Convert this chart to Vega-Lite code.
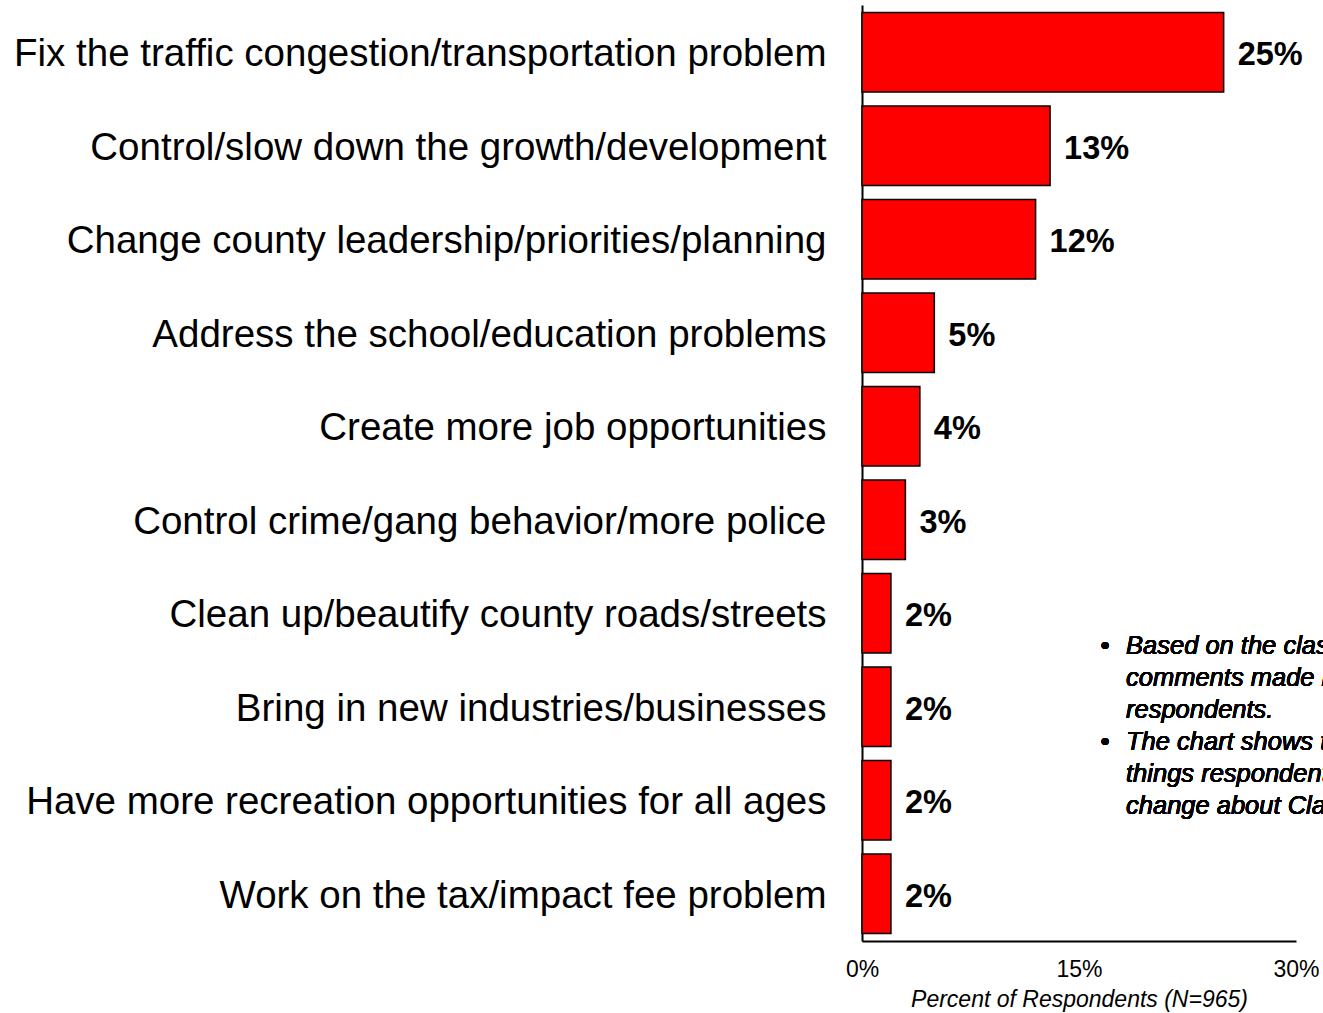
{
  "$schema": "https://vega.github.io/schema/vega-lite/v6.json",
  "autosize": "none",
  "width": 434,
  "height": 936,
  "padding": {"left": 862, "top": 5, "right": 27, "bottom": 72},
  "background": "white",
  "config": {"view": {"stroke": null}, "font": "Liberation Sans"},
  "data": {
    "values": [
      {"item": "Fix the traffic congestion/transportation problem", "pct": 25, "label": "25%"},
      {"item": "Control/slow down the growth/development", "pct": 13, "label": "13%"},
      {"item": "Change county leadership/priorities/planning", "pct": 12, "label": "12%"},
      {"item": "Address the school/education problems", "pct": 5, "label": "5%"},
      {"item": "Create more job opportunities", "pct": 4, "label": "4%"},
      {"item": "Control crime/gang behavior/more police", "pct": 3, "label": "3%"},
      {"item": "Clean up/beautify county roads/streets", "pct": 2, "label": "2%"},
      {"item": "Bring in new industries/businesses", "pct": 2, "label": "2%"},
      {"item": "Have more recreation opportunities for all ages", "pct": 2, "label": "2%"},
      {"item": "Work on the tax/impact fee problem", "pct": 2, "label": "2%"}
    ]
  },
  "encoding": {
    "y": {
      "field": "item",
      "type": "nominal",
      "sort": null,
      "scale": {"paddingInner": 0.15, "paddingOuter": 0.08},
      "axis": {
        "title": null,
        "ticks": false,
        "domainColor": "black",
        "domainWidth": 2,
        "labelFontSize": 38.5,
        "labelColor": "black",
        "labelPadding": 36,
        "labelOffset": 2,
        "labelLimit": 900,
        "labelFont": "Liberation Sans"
      }
    }
  },
  "layer": [
    {
      "mark": {"type": "bar", "fill": "#FF0000", "stroke": "black", "strokeWidth": 1.5},
      "encoding": {
        "x": {
          "field": "pct",
          "type": "quantitative",
          "scale": {"domain": [0, 30], "nice": false},
          "axis": {
            "values": [0, 15, 30],
            "labelExpr": "datum.value + '%'",
            "grid": false,
            "ticks": false,
            "domainColor": "black",
            "domainWidth": 2,
            "labelFontSize": 23,
            "labelColor": "black",
            "labelPadding": 17,
            "labelFlush": false,
            "title": "Percent of Respondents (N=965)",
            "titleFontSize": 23,
            "titleFontStyle": "italic",
            "titleFontWeight": "normal",
            "titleColor": "black",
            "titlePadding": 7
          }
        }
      }
    },
    {
      "mark": {"type": "text", "align": "left", "baseline": "middle", "dx": 14, "dy": 3, "fontSize": 32.5, "fontWeight": "bold", "color": "black"},
      "encoding": {
        "x": {"field": "pct", "type": "quantitative"},
        "text": {"field": "label"}
      }
    },
    {
      "mark": {
        "type": "text",
        "align": "left",
        "baseline": "middle",
        "fontSize": 25.5,
        "fontStyle": "italic",
        "lineHeight": 32,
        "dy": 33,
        "color": "black",
        "text": ["Based on the classified", "comments made by", "respondents.", "The chart shows the", "things respondents would", "change about Clay County."]
      },
      "encoding": {
        "x": {"datum": 18.25, "type": "quantitative"},
        "y": {"datum": "Clean up/beautify county roads/streets", "type": "nominal"}
      }
    },
    {
      "mark": {"type": "text", "align": "center", "baseline": "middle", "fontSize": 26, "dy": 33, "color": "black", "text": "•"},
      "encoding": {
        "x": {"datum": 16.8, "type": "quantitative"},
        "y": {"datum": "Clean up/beautify county roads/streets", "type": "nominal"}
      }
    },
    {
      "mark": {"type": "text", "align": "center", "baseline": "middle", "fontSize": 26, "dy": 35, "color": "black", "text": "•"},
      "encoding": {
        "x": {"datum": 16.8, "type": "quantitative"},
        "y": {"datum": "Bring in new industries/businesses", "type": "nominal"}
      }
    }
  ]
}
